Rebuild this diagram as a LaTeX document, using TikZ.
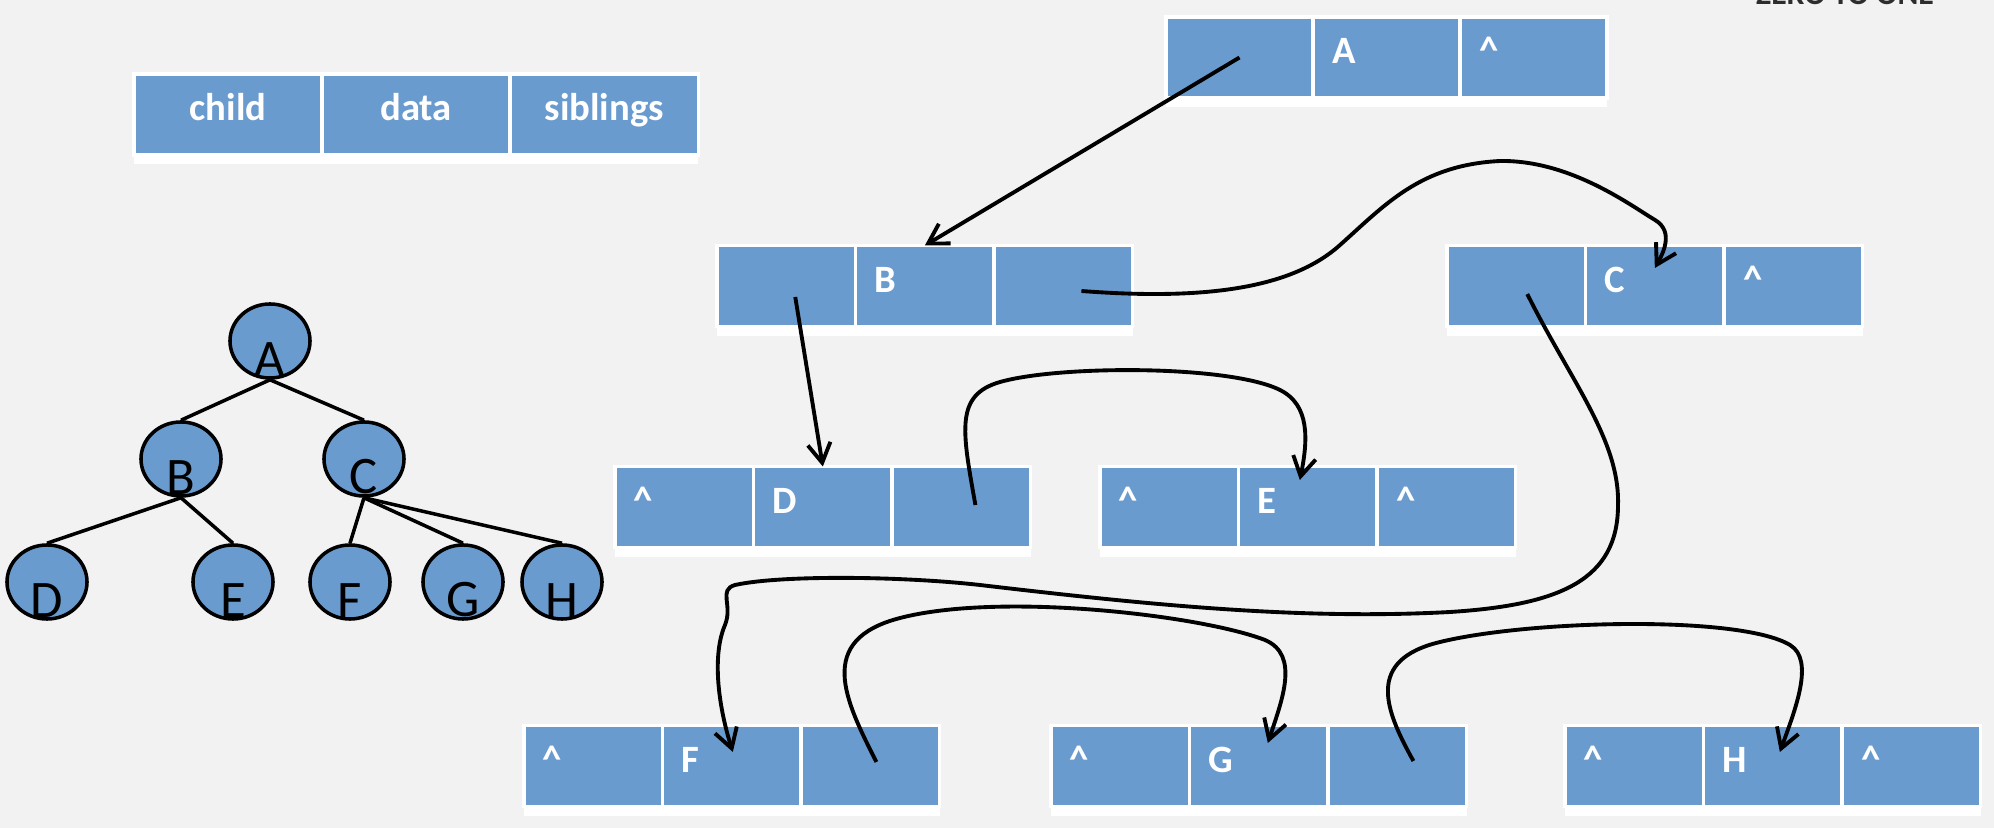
\documentclass[tikz,border=0pt]{standalone}
\usepackage{fontspec}
\setmainfont{Carlito}
\usetikzlibrary{shapes.geometric, arrows.meta, positioning}
\definecolor{cellblue}{RGB}{106,155,207}
\definecolor{paper}{RGB}{242,242,242}

\begin{document}
\begin{tikzpicture}[x=0.01cm, y=-0.01cm,
        cell/.style={draw=white, line width=1pt, fill=cellblue, outer sep=0pt, minimum width=1.385cm, minimum height=0.81cm, text width=1.005cm, inner xsep=0.19cm, inner ysep=0pt, align=left, text height=0.25cm, text depth=0.12cm, text=white, font=\fontsize{11}{13}\selectfont\bfseries},
        widecell/.style={cell, minimum width=1.47cm, text width=1.09cm},
        head/.style={cell, minimum width=1.88cm, text width=1.5cm, align=center},
        tnode/.style={ellipse, draw, line width=1pt, fill=cellblue, minimum width=0.8cm, minimum height=0.74cm, inner sep=0pt},
        tlab/.style={anchor=south, inner sep=0.03cm, font=\fontsize{15}{15}\selectfont},
        link/.style={line width=1.1pt, -{Straight Barb[length=5.5pt, width=6.5pt]}}
    ]
        \fill[paper] (0,0) rectangle (1994,828);
        \useasboundingbox (0,0) rectangle (1994,828);
        \node[anchor=base, text=gray!35!black, font=\fontsize{9}{9}\selectfont\bfseries] (wm) at (1845,5) {ZERO TO ONE};

        % legend
        \node[head] (Lc) at (228,114.5) {child};
        \node[head, right=0pt of Lc] (Ld) {data};
        \node[head, right=0pt of Ld] (Ls) {siblings};

        % records
        \node[widecell] (Ac) at (1239.5,57.5) {};
        \node[widecell, right=0pt of Ac] (Ad) {A};
        \node[widecell, right=0pt of Ad] (As) {\textasciicircum};

        \node[cell] (Bc) at (786.25,286) {};
        \node[cell, right=0pt of Bc] (Bd) {B};
        \node[cell, right=0pt of Bd] (Bs) {};

        \node[cell] (Cc) at (1516.25,286) {};
        \node[cell, right=0pt of Cc] (Cd) {C};
        \node[cell, right=0pt of Cd] (Cs) {\textasciicircum};

        \node[cell] (Dc) at (684.25,507) {\textasciicircum};
        \node[cell, right=0pt of Dc] (Dd) {D};
        \node[cell, right=0pt of Dd] (Ds) {};

        \node[cell] (Ec) at (1169.25,507) {\textasciicircum};
        \node[cell, right=0pt of Ec] (Ed) {E};
        \node[cell, right=0pt of Ed] (Es) {\textasciicircum};

        \node[cell] (Fc) at (593.25,766) {\textasciicircum};
        \node[cell, right=0pt of Fc] (Fd) {F};
        \node[cell, right=0pt of Fd] (Fs) {};

        \node[cell] (Gc) at (1120.25,766) {\textasciicircum};
        \node[cell, right=0pt of Gc] (Gd) {G};
        \node[cell, right=0pt of Gd] (Gs) {};

        \node[cell] (Hc) at (1634.25,766) {\textasciicircum};
        \node[cell, right=0pt of Hc] (Hd) {H};
        \node[cell, right=0pt of Hd] (Hs) {\textasciicircum};

        \foreach \r in {L,A,B,C,D,E,F,G,H}
            \fill[white] (\r c.south west) rectangle ([yshift=-0.09cm]\r s.south east);

        % child links
        \draw[link] (Ac.center) -- (Bd.north);
        \draw[link] ([shift={(9,11)}]Bc.center) -- (Dd.north);
        \draw[link] ([shift={(11,8)}]Cc.center) .. controls (1570,380) and (1620,440) .. (1618,505)
            .. controls (1618,580) and (1560,605) .. (1450,612)
            .. controls (1300,620) and (1150,605) .. (980,585)
            .. controls (900,576) and (780,575) .. (735,585)
            .. controls (718,590) and (733,605) .. (725,625)
            .. controls (712,655) and (718,705) .. ([shift={(1,-14)}]Fd.center);

        % sibling links
        \draw[link] ([shift={(18,5)}]Bs.center) .. controls (1200,300) and (1290,290) .. (1340,245)
            .. controls (1385,205) and (1420,165) .. (1500,161)
            .. controls (1570,160) and (1630,205) .. (1655,220)
            .. controls (1675,232) and (1662,255) .. ([shift={(0,-18)}]Cd.center);
        \draw[link] ([shift={(14,-2)}]Ds.center) .. controls (962,430) and (955,395) .. (1000,382)
            .. controls (1060,365) and (1230,365) .. (1280,390)
            .. controls (1310,405) and (1308,440) .. ([shift={(-8,-27)}]Ed.center);
        \draw[link] ([shift={(6,-4)}]Fs.center) .. controls (845,700) and (815,640) .. (900,618)
            .. controls (1000,592) and (1200,615) .. (1265,640)
            .. controls (1300,655) and (1282,700) .. ([shift={(9,-23)}]Gd.center);
        \draw[link] ([shift={(16,-5)}]Gs.center) .. controls (1385,710) and (1365,660) .. (1440,642)
            .. controls (1530,620) and (1740,615) .. (1790,645)
            .. controls (1815,660) and (1795,710) .. ([shift={(7,-14)}]Hd.center);

        % tree
        \node[tnode, label={[tlab]south:A}] (tA) at (270,341) {};
        \node[tnode, label={[tlab]south:B}] (tB) at (181,459) {};
        \node[tnode, label={[tlab]south:C}] (tC) at (364,459) {};
        \node[tnode, label={[tlab]south:D}] (tD) at (47,582) {};
        \node[tnode, label={[tlab]south:E}] (tE) at (233,582) {};
        \node[tnode, label={[tlab]south:F}] (tF) at (350,582) {};
        \node[tnode, label={[tlab]south:G}] (tG) at (463,582) {};
        \node[tnode, label={[tlab]south:H}] (tH) at (562,582) {};

        \draw[line width=1pt] (tA.south) -- (tB.north);
        \draw[line width=1pt] (tA.south) -- (tC.north);
        \draw[line width=1pt] (tB.south) -- (tD.north);
        \draw[line width=1pt] (tB.south) -- (tE.north);
        \draw[line width=1pt] (tC.south) -- (tF.north);
        \draw[line width=1pt] (tC.south) -- (tG.north);
        \draw[line width=1pt] (tC.south) -- (tH.north);
\end{tikzpicture}
\end{document}
